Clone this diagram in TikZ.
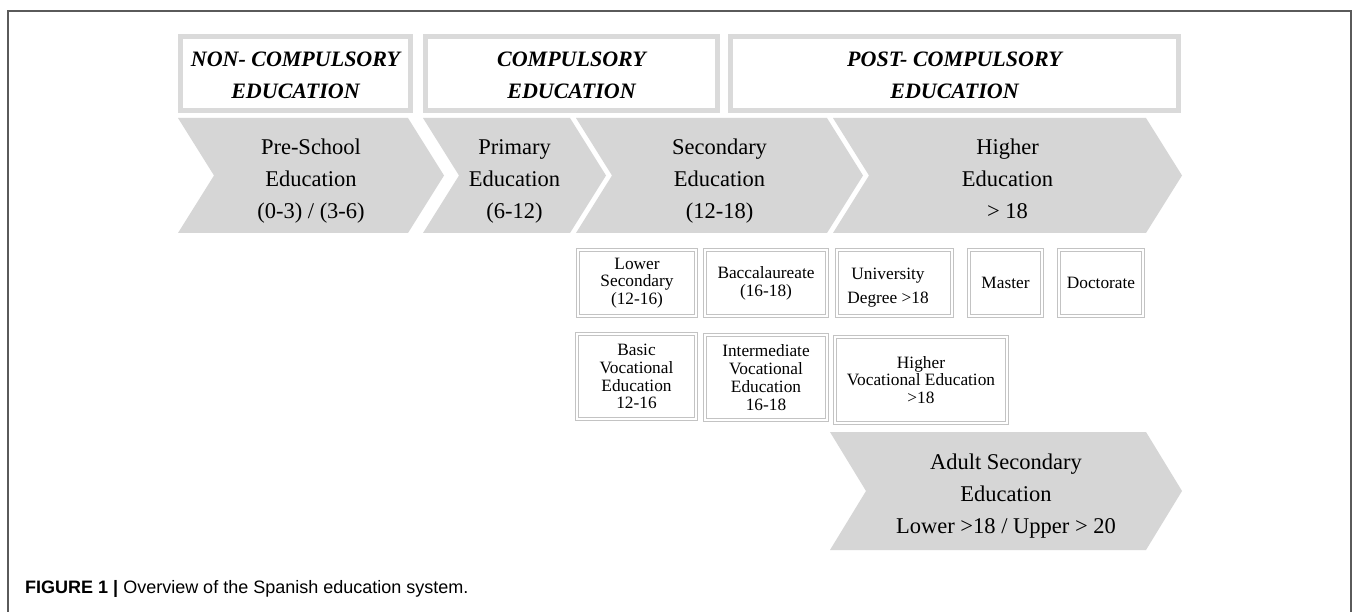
\documentclass[tikz,border=0pt]{standalone}
\usepackage{fontspec}
\setmainfont{Liberation Serif}
\newfontfamily\capfont{Liberation Sans}
\usetikzlibrary{positioning}
\definecolor{chevgray}{RGB}{214,214,214}
\definecolor{boxgray}{RGB}{218,218,218}
\definecolor{linegray}{RGB}{195,195,195}
\definecolor{framegray}{RGB}{90,90,90}
\tikzset{
  chevtext/.style={align=center, yshift=-4.5pt, font=\fontsize{22.5}{32}\selectfont},
  stagebox/.style={draw=boxgray, line width=5pt, fill=white},
  stagetext/.style={align=center, yshift=-2pt, font=\bfseries\itshape\fontsize{22}{32}\selectfont},
  subbox/.style={draw=linegray, line width=0.8pt, double=white, double distance=2.6pt,
    align=center, inner sep=2pt, font=\fontsize{17.3}{17.8}\selectfont},
}
% chevron: name, left x, right x (top corner), top y, bottom y, text
\newcommand{\Chev}[6]{%
  \fill[chevgray] (#2,#4) -- (#3,#4) -- ({#3+36},{(#4+#5)/2}) -- (#3,#5)
    -- (#2,#5) -- ({#2+36},{(#4+#5)/2}) -- cycle;
  \node[chevtext] (#1) at ({(#2+#3)/2+18},{(#4+#5)/2}) {\strut#6\strut};}
% boxes given by their outer edges
\newcommand{\Stage}[4]{%
  \node[stagebox, minimum width={#3-#2-5}, minimum height=74] (#1) at ({(#2+#3)/2},73.5) {};
  \node[stagetext] (#1-t) at (#1) {#4};}
\newcommand{\SBox}[6]{%
  \node[subbox, minimum width={#3-#2-4.2}, minimum height={#5-#4-4.2}] (#1)
    at ({(#2+#3)/2},{(#4+#5)/2}) {#6};}

\begin{document}
\begin{tikzpicture}[x=1pt, y=-1pt]
\fill[white] (0,0) rectangle (1357,612);
\useasboundingbox (0,0) rectangle (1357,612);
\draw[framegray, line width=1.2pt] (8,614) -- (8,11) -- (1351,11) -- (1351,614);

% stages
\Stage{noncomp}{178}{413}{NON- COMPULSORY\\EDUCATION}
\Stage{comp}{423}{720}{COMPULSORY\\EDUCATION}
\Stage{postcomp}{728}{1181}{POST- COMPULSORY\\EDUCATION}

% levels
\Chev{pre}{178}{408}{118}{233}{Pre-School\\Education\\(0-3) / (3-6)}
\Chev{prim}{423}{570}{118}{233}{Primary\\Education\\(6-12)}
\Chev{sec}{576}{827}{118}{233}{Secondary\\Education\\(12-18)}
\Chev{high}{833}{1146}{118}{233}{Higher\\Education\\> 18}

% programmes
\SBox{lowsec}{576}{698}{248}{318}{Lower\\Secondary\\(12-16)}
\SBox{bacc}{703}{829}{248}{318}{Baccalaureate\\(16-18)}
\SBox{univ}{835}{954}{248}{318}{}
\node[align=center, font=\fontsize{17.3}{24}\selectfont] (univ-t) at (888,288) {University\\Degree >18};
\SBox{master}{967}{1044}{248}{318}{Master}
\SBox{doct}{1057}{1145}{248}{318}{Doctorate}
\SBox{basicvoc}{575}{698}{332}{421}{Basic\\Vocational\\Education\\12-16}
\SBox{intervoc}{703}{829}{333}{422}{Intermediate\\Vocational\\Education\\16-18}
\SBox{highvoc}{833}{1009}{335}{425}{Higher\\Vocational Education\\>18}

\Chev{adult}{830}{1146}{432}{550}{Adult Secondary\\Education\\Lower >18 / Upper > 20}

\node[anchor=base west, inner sep=0pt, font=\capfont\fontsize{18}{20}\selectfont] (caption) at (25,593)
  {\textbf{FIGURE 1 |} Overview of the Spanish education system.};
\end{tikzpicture}
\end{document}
